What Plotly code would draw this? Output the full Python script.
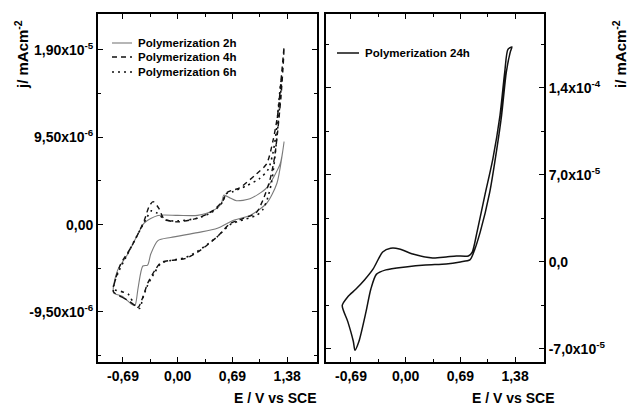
import plotly.graph_objects as go

# ---------------- data ----------------
# 2h (solid grey)
e_2h = [-0.81, -0.70, -0.59, -0.54, -0.50, -0.44, -0.38, -0.34, -0.25, -0.09, 0.25, 0.50, 0.69, 0.91, 1.12, 1.25, 1.34,
        1.29, 1.12, 0.91, 0.74, 0.66, 0.58, 0.55, 0.44, 0.25, 0.00, -0.25, -0.42, -0.50, -0.63, -0.76, -0.81]
j_2h = [-7.4, -7.8, -8.6, -8.8, -6.9, -4.5, -4.4, -3.2, -1.74, -1.4, -0.87, -0.40, 0.43, 1.0, 2.3, 4.5, 9.0,
        6.6, 4.0, 2.8, 2.6, 2.9, 3.2, 2.3, 1.5, 1.0, 1.0, 1.0, 0.2, -1.0, -3.2, -5.0, -7.4]
# 4h (dashed)
e_4h = [-0.81, -0.70, -0.60, -0.50, -0.44, -0.38, -0.29, -0.21, -0.09, 0.09, 0.25, 0.50, 0.66, 0.82, 0.99, 1.07, 1.16,
        1.22, 1.26, 1.30, 1.33, 1.34,
        1.31, 1.26, 1.20, 1.12, 0.99, 0.78, 0.62, 0.57, 0.44, 0.25, 0.00, -0.17, -0.24, -0.31, -0.36, -0.42,
        -0.50, -0.59, -0.72, -0.78, -0.81]
j_4h = [-7.3, -7.9, -8.4, -9.0, -7.9, -6.4, -5.0, -4.1, -3.9, -3.7, -3.0, -1.3, 0.1, 0.65, 1.3, 2.6, 4.8,
        7.3, 10.2, 13.8, 17.5, 19.3,
        16.5, 12.0, 9.1, 6.6, 5.5, 4.0, 3.5, 2.6, 1.5, 0.7, 0.3, 0.6, 1.8, 2.5, 2.0, 0.5,
        -1.0, -2.5, -4.3, -5.8, -7.3]
# 6h (dotted)
e_6h = [-0.81, -0.70, -0.62, -0.54, -0.48, -0.44, -0.38, -0.29, -0.21, -0.09, 0.09, 0.25, 0.50, 0.66, 0.82, 0.99, 1.07,
        1.13, 1.18, 1.22, 1.26, 1.29, 1.31,
        1.30, 1.27, 1.24, 1.20, 1.14, 1.03, 0.86, 0.70, 0.60, 0.57, 0.44, 0.25, 0.00, -0.15, -0.27, -0.33, -0.40,
        -0.45, -0.55, -0.65, -0.75, -0.81]
j_6h = [-7.0, -7.3, -7.6, -8.8, -9.1, -8.0, -6.6, -5.2, -4.2, -3.9, -3.6, -2.9, -1.3, 0.0, 0.5, 1.0, 1.6,
        2.8, 4.5, 7.0, 10.5, 13.5, 16.0,
        15.5, 13.0, 10.0, 7.8, 6.0, 5.0, 4.2, 3.6, 3.3, 2.5, 1.4, 0.7, 0.4, 0.5, 1.3, 1.5, 0.6,
        -0.2, -1.8, -3.5, -5.2, -7.0]
# 24h (right panel)
e_24h = [-0.80, -0.73, -0.66, -0.64, -0.59, -0.50, -0.44, -0.37, -0.25, 0.00, 0.25, 0.51, 0.69, 0.81, 0.85, 0.94,
         1.06, 1.15, 1.21, 1.27, 1.32, 1.34,
         1.29, 1.25, 1.19, 1.10, 1.00, 0.90, 0.84, 0.79, 0.64, 0.51, 0.34, 0.09, -0.08, -0.19, -0.29, -0.41,
         -0.52, -0.63, -0.73, -0.80]
i_24h = [-3.5, -4.8, -6.4, -7.1, -6.4, -4.0, -2.2, -1.0, -0.64, -0.40, -0.24, -0.16, 0.0, 0.16, 0.64, 2.4,
         5.6, 9.1, 11.8, 15.3, 16.9, 17.3,
         17.1, 15.3, 11.8, 8.3, 5.4, 2.4, 0.8, 0.48, 0.48, 0.40, 0.32, 0.64, 1.05, 1.1, 0.8, -0.56,
         -1.45, -2.2, -2.8, -3.5]

j_2h = [v * 1e-6 for v in j_2h]
j_4h = [v * 1e-6 for v in j_4h]
j_6h = [v * 1e-6 for v in j_6h]
i_24h = [v * 1e-5 for v in i_24h]

series_names = ["Polymerization 2h", "Polymerization 4h", "Polymerization 6h", "Polymerization 24h"]

x_tickvals = [-0.69, 0.0, 0.69, 1.38]
x_ticktext = ["-0,69", "0,00", "0,69", "1,38"]
y1_tickvals = [1.9e-5, 9.5e-6, 0.0, -9.5e-6]
y1_ticktext = ["1,90x10<sup>-5</sup>", "9,50x10<sup>-6</sup>", "0,00", "-9,50x10<sup>-6</sup>"]
y2_tickvals = [1.4e-4, 7.0e-5, 0.0, -7.0e-5]
y2_ticktext = ["1,4x10<sup>-4</sup>", "7,0x10<sup>-5</sup>", "0,0", "-7,0x10<sup>-5</sup>"]

W, H = 631, 405
FONT = "Liberation Sans, Arial, sans-serif"

styles = [
    dict(color="#7a7a7a", width=1.1, dash="solid"),
    dict(color="#111111", width=1.4, dash="5px,4px"),
    dict(color="#111111", width=1.6, dash="2px,4px"),
    dict(color="#111111", width=1.5, dash="solid"),
]

fig = go.Figure()
for (xs, ys, ax, ay), nm, st in zip(
        [(e_2h, j_2h, "x", "y"), (e_4h, j_4h, "x", "y"), (e_6h, j_6h, "x", "y"), (e_24h, i_24h, "x2", "y2")],
        series_names, styles):
    fig.add_trace(go.Scatter(x=xs, y=ys, mode="lines", name=nm, showlegend=False,
                             line=dict(shape="spline", smoothing=0.7, **st), xaxis=ax, yaxis=ay))

ydom = [1 - 362 / H, 1 - 14 / H]
axis_common = dict(showline=True, linecolor="black", linewidth=1.8, mirror="ticks", ticks="inside",
                   ticklen=5, tickwidth=1.3, tickcolor="black", showgrid=False, zeroline=False,
                   tickfont=dict(family=FONT, size=14, color="black"))

def bold(lst):
    return ["<b>" + t + "</b>" for t in lst]

# manual legend keys (paper coordinates)
legend_rows = [(112, 132, 43), (112, 132, 57), (112, 132, 72), (337, 359, 53)]
shapes = []
annotations = []
for (x0, x1, yy), nm, st in zip(legend_rows, series_names, styles):
    shapes.append(dict(type="line", xref="paper", yref="paper", x0=x0 / W, x1=x1 / W,
                       y0=1 - yy / H, y1=1 - yy / H,
                       line=dict(color=st["color"], width=st["width"], dash=st["dash"])))
    annotations.append(dict(text="<b>" + nm + "</b>", x=(x1 + 4) / W, y=1 - yy / H, xref="paper", yref="paper",
                            xanchor="left", yanchor="middle", showarrow=False,
                            font=dict(family=FONT, size=11.5, color="black")))

annotations += [
    dict(text="<b>E / V vs SCE</b>", x=318 / W, y=1 - 398 / H, xref="paper", yref="paper",
         xanchor="right", yanchor="middle", showarrow=False, font=dict(family=FONT, size=14, color="black")),
    dict(text="<b>E / V vs SCE</b>", x=556 / W, y=1 - 398 / H, xref="paper", yref="paper",
         xanchor="right", yanchor="middle", showarrow=False, font=dict(family=FONT, size=14, color="black")),
    dict(text="<b>j/ mAcm<sup>-2</sup></b>", x=22 / W, y=1 - 55 / H, xref="paper", yref="paper",
         xanchor="center", yanchor="middle", textangle=-90, showarrow=False,
         font=dict(family=FONT, size=15, color="black")),
    dict(text="<b>i/ mAcm<sup>-2</sup></b>", x=620 / W, y=1 - 54 / H, xref="paper", yref="paper",
         xanchor="center", yanchor="middle", textangle=-90, showarrow=False,
         font=dict(family=FONT, size=15, color="black")),
]

fig.update_layout(
    width=W, height=H, margin=dict(l=0, r=0, t=0, b=0),
    paper_bgcolor="white", plot_bgcolor="white", showlegend=False,
    xaxis=dict(domain=[98 / W, 317 / W], range=[-1.005, 1.755], anchor="y",
               tickmode="array", tickvals=x_tickvals, ticktext=bold(x_ticktext),
               minor=dict(ticks="inside", ticklen=3, tickcolor="black", tickvals=[-0.345, 0.345, 1.035]),
               **axis_common),
    yaxis=dict(domain=ydom, range=[-1.494e-5, 2.29e-5], anchor="x",
               tickmode="array", tickvals=y1_tickvals, ticktext=bold(y1_ticktext),
               minor=dict(ticks="inside", ticklen=3, tickcolor="black",
                          tickvals=[1.425e-5, 4.75e-6, -4.75e-6, -1.425e-5]),
               **axis_common),
    xaxis2=dict(domain=[326 / W, 544 / W], range=[-1.005, 1.745], anchor="y2",
                tickmode="array", tickvals=x_tickvals, ticktext=bold(x_ticktext),
                minor=dict(ticks="inside", ticklen=3, tickcolor="black", tickvals=[-0.345, 0.345, 1.035]),
                **axis_common),
    yaxis2=dict(domain=ydom, range=[-8.05e-5, 1.995e-4], anchor="x2", side="right",
                tickmode="array", tickvals=y2_tickvals, ticktext=bold(y2_ticktext),
                minor=dict(ticks="inside", ticklen=3, tickcolor="black",
                           tickvals=[1.75e-4, 1.05e-4, 3.5e-5, -3.5e-5]),
                **axis_common),
    shapes=shapes,
    annotations=annotations,
)

fig.write_html("out.html")
